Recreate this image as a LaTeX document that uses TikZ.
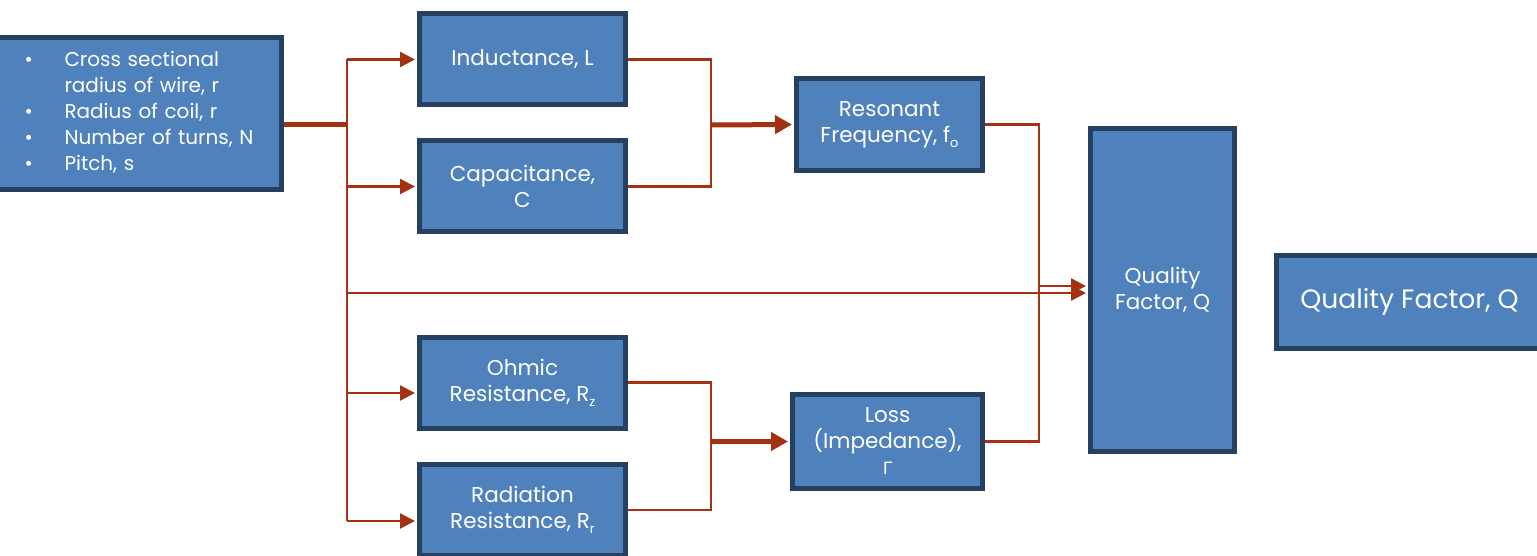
\documentclass[tikz,border=0pt]{standalone}
\usepackage{fontspec}
\setmainfont{Poppins}
\newfontfamily\grkfont{DejaVu Sans}
\usepackage{xcolor}
\usetikzlibrary{arrows.meta}
\definecolor{boxfill}{RGB}{79,129,189}
\definecolor{boxline}{RGB}{37,64,97}
\definecolor{wire}{RGB}{163,50,18}
\newcommand{\lowsub}[1]{\raisebox{-5pt}{\fontsize{13}{13}\selectfont #1}}

\begin{document}
\begin{tikzpicture}[x=1pt,y=-1pt,
  blk/.style={draw=boxline,line width=5pt,fill=boxfill,text=white,align=center,
    font=\fontsize{21.5}{26}\selectfont,inner sep=2pt},
  wln/.style={draw=wire,line width=2.3pt},
  wtk/.style={draw=wire,line width=5pt},
  arr/.style={wln,shorten >=2pt,-{Triangle[length=15pt,width=15pt]}},
  tarr/.style={wtk,shorten >=2pt,-{Triangle[length=17pt,width=18pt]}}]
  \useasboundingbox (0,0) rectangle (1537,556);

  % input parameters
  \node[blk,minimum width=285pt,minimum height=152pt,inner xsep=28pt,text width=229pt,align=left,
    font=\fontsize{20}{26}\selectfont]
    (in) at (139,113.5) {\begin{tabular}{@{}p{40pt}@{}l@{}}
      \textbullet & Cross sectional\\
                  & radius of wire, r\\
      \textbullet & Radius of coil, r\\
      \textbullet & Number of turns, N\\
      \textbullet & Pitch, s
    \end{tabular}};

  % first stage
  \foreach \n/\y/\lab in {
     ind/59.5/{Inductance, L},
     cap/186.5/{Capacitance,\\C},
     ohm/382.5/{Ohmic\\Resistance, R\lowsub{z}},
     rad/510/{Radiation\\Resistance, R\lowsub{r}}}
  { \node[blk,minimum width=206pt,minimum height=91pt] (\n) at (522.5,\y) {\lab}; }

  % second stage
  \node[blk,minimum width=186pt,minimum height=92pt] (res) at (889.5,124.5)
    {Resonant\\Frequency, f\lowsub{o}};
  \node[blk,minimum width=190pt,minimum height=94pt] (loss) at (887.5,441.5)
    {Loss\\(Impedance),\\{\grkfont\fontsize{17}{26}\selectfont Γ}};

  % result
  \node[blk,minimum width=144pt,minimum height=323pt] (qf) at (1162.5,290) {Quality\\Factor, Q};
  \node[blk,minimum width=266pt,minimum height=93pt,font=\fontsize{26.6}{32}\selectfont]
    (qfr) at (1409.5,302) {Quality Factor, Q};

  % connectors
  \coordinate (tr) at (347,125);
  \coordinate (qa) at (347,293);
  \coordinate (oa) at (347,393);
  \coordinate (ra) at (347,521);
  \coordinate (b1) at (711,125);
  \coordinate (b2) at (711,441.5);
  \coordinate (b3) at (1039,286);

  \draw[wtk] (in.east |- tr) -- (tr);
  \draw[wln] (tr |- ind.west) -- (ra);
  \draw[arr] (tr |- ind.west) -- (ind.west);
  \draw[arr] (tr |- cap.west) -- (cap.west);
  \draw[arr] (oa) -- (oa -| ohm.west);
  \draw[arr] (ra) -- (ra -| rad.west);
  \draw[arr] (qa) -- (qa -| qf.west);

  \draw[wln] (ind.east) -| (b1) |- (cap.east);
  \draw[tarr] (b1) -- (res.west);
  \draw[wln] (ohm.east) -| (b2) |- (rad.east);
  \draw[tarr] (b2) -- (loss.west);
  \draw[wln] (res.east) -| (b3) |- (loss.east);
  \draw[arr] (b3) -- (b3 -| qf.west);
\end{tikzpicture}
\end{document}
